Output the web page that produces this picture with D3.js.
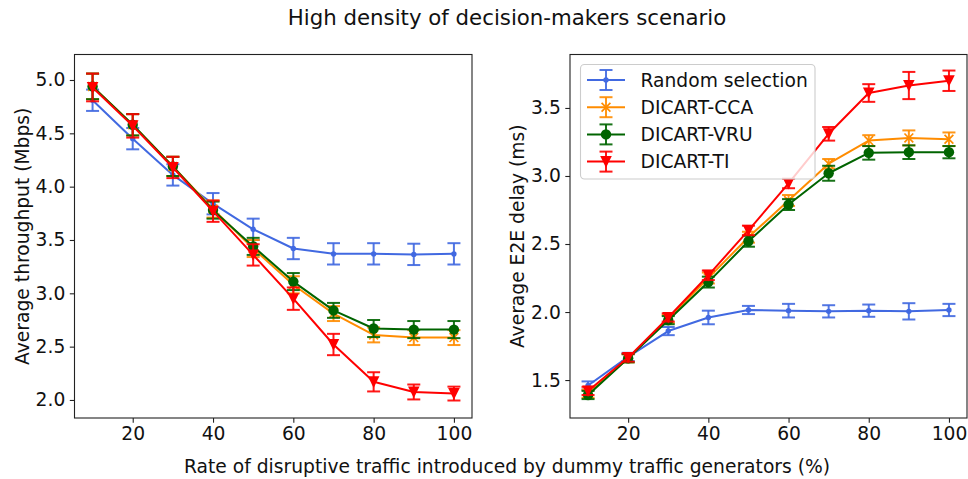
<!DOCTYPE html>
<html>
<head>
<meta charset="utf-8">
<script src="https://cdn.jsdelivr.net/npm/d3@7"></script>
<style>
  html, body { margin: 0; padding: 0; background: #fff; }
  svg { display: block; font-family: "DejaVu Sans", sans-serif; }
</style>
</head>
<body>
<svg id="chart" width="968" height="479"></svg>
<script>
// Rate of disruptive traffic (%)
const rates = [10, 20, 30, 40, 50, 60, 70, 80, 90, 100];

// Average throughput (Mbps) and error bars
const thrRandom    = [4.81, 4.45, 4.11, 3.84, 3.60, 3.42, 3.37, 3.37, 3.365, 3.37];
const thrRandomErr = [0.10, 0.10, 0.10, 0.10, 0.10, 0.10, 0.10, 0.10, 0.10, 0.10];
const thrCCA       = [4.94, 4.58, 4.19, 3.79, 3.42, 3.08, 2.81, 2.61, 2.585, 2.585];
const thrCCAErr    = [0.12, 0.10, 0.09, 0.08, 0.08, 0.08, 0.07, 0.07, 0.07, 0.07];
const thrVRU       = [4.94, 4.58, 4.19, 3.78, 3.44, 3.11, 2.84, 2.67, 2.66, 2.66];
const thrVRUErr    = [0.12, 0.10, 0.09, 0.08, 0.08, 0.08, 0.07, 0.08, 0.08, 0.08];
const thrTI        = [4.93, 4.57, 4.18, 3.77, 3.36, 2.95, 2.52, 2.17, 2.075, 2.06];
const thrTIErr     = [0.13, 0.11, 0.10, 0.10, 0.10, 0.105, 0.10, 0.09, 0.07, 0.065];

// Average E2E delay (ms) and error bars
const delRandom    = [1.46, 1.67, 1.86, 1.96, 2.015, 2.01, 2.005, 2.01, 2.005, 2.015];
const delRandomErr = [0.03, 0.03, 0.03, 0.05, 0.03, 0.05, 0.045, 0.045, 0.06, 0.045];
const delCCA       = [1.40, 1.66, 1.95, 2.25, 2.55, 2.82, 3.09, 3.26, 3.28, 3.27];
const delCCAErr    = [0.03, 0.03, 0.03, 0.04, 0.04, 0.04, 0.035, 0.04, 0.055, 0.05];
const delVRU       = [1.39, 1.66, 1.94, 2.22, 2.52, 2.79, 3.02, 3.17, 3.175, 3.175];
const delVRUErr    = [0.03, 0.03, 0.03, 0.04, 0.04, 0.04, 0.055, 0.05, 0.05, 0.045];
const delTI        = [1.42, 1.665, 1.96, 2.27, 2.60, 2.945, 3.31, 3.61, 3.665, 3.70];
const delTIErr     = [0.03, 0.03, 0.03, 0.035, 0.035, 0.035, 0.05, 0.065, 0.10, 0.075];

const seriesNames = ["Random selection", "DICART-CCA", "DICART-VRU", "DICART-TI"];
const seriesColors = ["#4169E1", "#FF8C00", "#006400", "#FF0000"];
const seriesMarkers = ["point", "x", "circle", "tridown"];

const xTicks = [20, 40, 60, 80, 100];
const thrTicks = [2.0, 2.5, 3.0, 3.5, 4.0, 4.5, 5.0];
const delTicks = [1.5, 2.0, 2.5, 3.0, 3.5];

const titleText = "High density of decision-makers scenario";
const xLabelText = "Rate of disruptive traffic introduced by dummy traffic generators (%)";

const svg = d3.select("#chart");
const FONT = 18.7;
const TITLE_FONT = 21.3;

function drawMarker(g, kind, cx, cy, color) {
  if (kind === "point") {
    g.append("circle").attr("cx", cx).attr("cy", cy).attr("r", 2.7).attr("fill", color);
  } else if (kind === "circle") {
    g.append("circle").attr("cx", cx).attr("cy", cy).attr("r", 5.2).attr("fill", color);
  } else if (kind === "x") {
    const s = 4.4;
    g.append("path")
      .attr("d", `M${cx - s},${cy - s}L${cx + s},${cy + s}M${cx - s},${cy + s}L${cx + s},${cy - s}`)
      .attr("stroke", color).attr("stroke-width", 1.7).attr("fill", "none");
  } else if (kind === "tridown") {
    const s = 5.8;
    g.append("path")
      .attr("d", `M${cx - s},${cy - s * 0.95}L${cx + s},${cy - s * 0.95}L${cx},${cy + s * 1.05}Z`)
      .attr("fill", color);
  }
}

function panel(opts) {
  const { x0, x1, y0, y1, yDomain, ticksY, ylabel, ylabelX, data, legend } = opts;
  const x = d3.scaleLinear().domain([5.5, 104.5]).range([x0, x1]);
  const y = d3.scaleLinear().domain(yDomain).range([y1, y0]);
  const g = svg.append("g");

  // series: error bars, line, markers
  data.forEach((s, si) => {
    const color = seriesColors[si];
    const sg = g.append("g");
    rates.forEach((r, i) => {
      const cx = x(r);
      const top = y(s.v[i] + s.e[i]), bot = y(s.v[i] - s.e[i]);
      sg.append("line").attr("x1", cx).attr("x2", cx).attr("y1", top).attr("y2", bot)
        .attr("stroke", color).attr("stroke-width", 2).attr("opacity", 0.9);
      [top, bot].forEach(yy => {
        sg.append("line").attr("x1", cx - 6.5).attr("x2", cx + 6.5).attr("y1", yy).attr("y2", yy)
          .attr("stroke", color).attr("stroke-width", 2).attr("opacity", 0.9);
      });
    });
    const line = d3.line().x((d, i) => x(rates[i])).y(d => y(d));
    sg.append("path").attr("d", line(s.v)).attr("fill", "none")
      .attr("stroke", color).attr("stroke-width", 2).attr("stroke-linejoin", "round");
    rates.forEach((r, i) => drawMarker(sg, seriesMarkers[si], x(r), y(s.v[i]), color));
  });

  // frame
  g.append("rect").attr("x", x0).attr("y", y0).attr("width", x1 - x0).attr("height", y1 - y0)
    .attr("fill", "none").attr("stroke", "#222").attr("stroke-width", 1.1);

  // x axis
  const xAxis = d3.axisBottom(x).tickValues(xTicks).tickSize(4.7).tickPadding(4).tickFormat(d3.format("d"));
  const gx = g.append("g").attr("transform", `translate(0,${y1})`).call(xAxis);
  gx.select(".domain").remove();
  gx.selectAll("line").attr("stroke", "#222").attr("stroke-width", 1.1);
  gx.selectAll("text").attr("font-size", FONT).attr("fill", "#111").attr("font-family", "DejaVu Sans");

  // y axis
  const yAxis = d3.axisLeft(y).tickValues(ticksY).tickSize(4.7).tickPadding(4.5).tickFormat(d3.format(".1f"));
  const gy = g.append("g").attr("transform", `translate(${x0},0)`).call(yAxis);
  gy.select(".domain").remove();
  gy.selectAll("line").attr("stroke", "#222").attr("stroke-width", 1.1);
  gy.selectAll("text").attr("font-size", FONT).attr("fill", "#111").attr("font-family", "DejaVu Sans");

  // y label
  svg.append("text").attr("transform", `translate(${ylabelX},${(y0 + y1) / 2}) rotate(-90)`)
    .attr("text-anchor", "middle").attr("dominant-baseline", "central")
    .attr("font-size", FONT).attr("fill", "#111").text(ylabel);

  if (legend) {
    const lg = svg.append("g");
    lg.append("rect").attr("x", legend.x).attr("y", legend.y).attr("width", legend.w).attr("height", legend.h)
      .attr("rx", 4).attr("fill", "#fff").attr("fill-opacity", 0.8)
      .attr("stroke", "#ccc").attr("stroke-width", 1.1);
    seriesNames.forEach((name, i) => {
      const cy = legend.y + 15.5 + i * 27.2;
      const color = seriesColors[i];
      const lx0 = legend.x + 6.5, lx1 = legend.x + 44.5, lcx = (lx0 + lx1) / 2;
      lg.append("line").attr("x1", lx0).attr("x2", lx1).attr("y1", cy).attr("y2", cy)
        .attr("stroke", color).attr("stroke-width", 2);
      lg.append("line").attr("x1", lcx).attr("x2", lcx).attr("y1", cy - 10).attr("y2", cy + 10)
        .attr("stroke", color).attr("stroke-width", 2).attr("opacity", 0.9);
      [cy - 10, cy + 10].forEach(yy => lg.append("line").attr("x1", lcx - 6.5).attr("x2", lcx + 6.5)
        .attr("y1", yy).attr("y2", yy).attr("stroke", color).attr("stroke-width", 2).attr("opacity", 0.9));
      drawMarker(lg, seriesMarkers[i], lcx, cy, color);
      lg.append("text").attr("x", legend.x + 60).attr("y", cy).attr("dominant-baseline", "central")
        .attr("font-size", FONT).attr("fill", "#111").text(name);
    });
  }
}

panel({
  x0: 74.5, x1: 472, y0: 54.5, y1: 418,
  yDomain: [1.831, 5.239], ticksY: thrTicks,
  ylabel: "Average throughput (Mbps)", ylabelX: 22,
  data: [
    { v: thrRandom, e: thrRandomErr },
    { v: thrCCA, e: thrCCAErr },
    { v: thrVRU, e: thrVRUErr },
    { v: thrTI, e: thrTIErr }
  ]
});

panel({
  x0: 570, x1: 967, y0: 54.5, y1: 418,
  yDomain: [1.221, 3.893], ticksY: delTicks,
  ylabel: "Average E2E delay (ms)", ylabelX: 517,
  data: [
    { v: delRandom, e: delRandomErr },
    { v: delCCA, e: delCCAErr },
    { v: delVRU, e: delVRUErr },
    { v: delTI, e: delTIErr }
  ],
  legend: { x: 580.5, y: 64.5, w: 234.5, h: 114.5 }
});

svg.append("text").attr("x", 507).attr("y", 17).attr("text-anchor", "middle")
  .attr("dominant-baseline", "central").attr("font-size", TITLE_FONT).attr("fill", "#111").text(titleText);

svg.append("text").attr("x", 507).attr("y", 466).attr("text-anchor", "middle")
  .attr("dominant-baseline", "central").attr("font-size", FONT).attr("fill", "#111").text(xLabelText);
</script>
</body>
</html>
